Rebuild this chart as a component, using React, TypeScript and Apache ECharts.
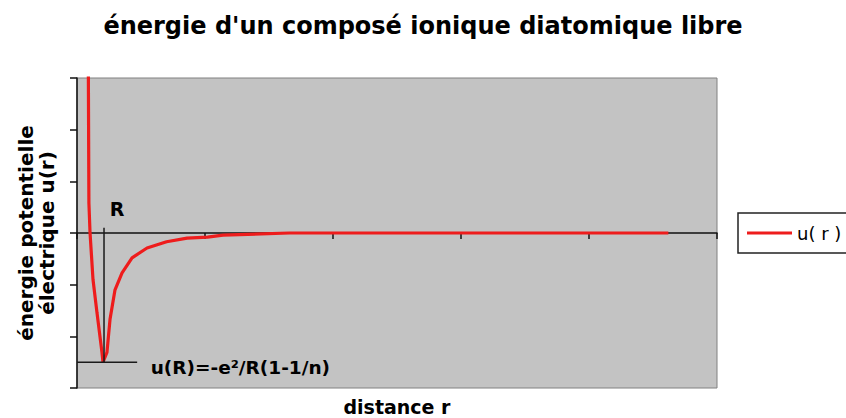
import React, { useEffect, useRef } from "react";
import * as echarts from "echarts";

// distance r (axis units: 0..5) and potential energy u(r) (axis units: -3..3)
const rValues = [0.088, 0.093, 0.102, 0.125, 0.156, 0.195, 0.203, 0.234, 0.258, 0.297, 0.352, 0.43, 0.547, 0.7, 0.86, 1.02, 1.14, 1.66, 4.62];
const uValues = [3.5, 0.58, 0, -0.9, -1.54, -2.31, -2.5, -2.31, -1.67, -1.1, -0.77, -0.48, -0.29, -0.17, -0.1, -0.08, -0.04, 0, 0];

// annotation: equilibrium distance R and minimum energy u(R)
const rMarkX = [0.211, 0.211];
const rMarkY = [-2.5, 0.1];
const minMarkX = [0, 0.47];
const minMarkY = [-2.5, -2.5];

const titleText = "énergie d'un composé ionique diatomique libre";
const yName = "énergie potentielle\nélectrique u(r)";
const xName = "distance r";
const seriesName = "u( r )";
const rLabel = "R";
const minLabel = "u(R)=-e²/R(1-1/n)";

const FONT = "DejaVu Sans";

export default function App() {
  const ref = useRef<HTMLDivElement>(null);
  useEffect(() => {
    if (!ref.current) return;
    const chart = echarts.init(ref.current, null, { renderer: "svg" });
    const curve = rValues.map((r, i) => [r, uValues[i]]);
    const rLine = rMarkX.map((x, i) => [x, rMarkY[i]]);
    const minLine = minMarkX.map((x, i) => [x, minMarkY[i]]);
    const labelBase = { fontFamily: FONT, fontWeight: "bold", color: "#000000", textBorderWidth: 0, opacity: 1 };
    chart.setOption({
      animation: false,
      backgroundColor: "#ffffff",
      title: {
        text: titleText,
        left: "center",
        top: 9,
        textStyle: { fontFamily: FONT, fontWeight: "bold", fontSize: 24, color: "#000" },
      },
      legend: {
        data: [{ name: seriesName, icon: "rect" }],
        left: 738,
        top: 213,
        padding: [10, 8, 10, 9],
        itemWidth: 45,
        itemHeight: 3,
        itemGap: 0,
        borderColor: "#222",
        borderWidth: 1.5,
        textStyle: { fontFamily: FONT, fontSize: 18, color: "#000", lineHeight: 20 },
      },
      grid: {
        left: 77,
        right: 129,
        top: 78,
        bottom: 30,
        show: true,
        backgroundColor: "#c3c3c3",
        borderColor: "#808080",
        borderWidth: 1,
      },
      xAxis: {
        type: "value",
        min: 0,
        max: 5,
        interval: 1,
        axisLine: { show: true, onZero: true, lineStyle: { color: "#111", width: 1.5 } },
        axisTick: { show: true, inside: false, length: 6, lineStyle: { color: "#111", width: 1.5 } },
        axisLabel: { show: false },
        splitLine: { show: false },
      },
      yAxis: {
        type: "value",
        min: -3,
        max: 3,
        interval: 1,
        name: yName,
        nameLocation: "middle",
        nameGap: 20,
        nameTextStyle: { fontFamily: FONT, fontWeight: "bold", fontSize: 20, lineHeight: 21, color: "#000" },
        axisLine: { show: true, onZero: false, lineStyle: { color: "#111", width: 1.5 } },
        axisTick: { show: true, inside: false, length: 7, lineStyle: { color: "#111", width: 1.5 } },
        axisLabel: { show: false },
        splitLine: { show: false },
      },
      graphic: [
        {
          type: "text",
          x: 397,
          y: 407,
          style: {
            text: xName,
            fontFamily: FONT,
            fontWeight: "bold",
            fontSize: 19,
            fill: "#000",
            textAlign: "center",
            textVerticalAlign: "middle",
          },
        },
      ],
      series: [
        {
          name: seriesName,
          type: "line",
          data: curve,
          symbol: "none",
          clip: true,
          lineStyle: { color: "#ee1c1c", width: 3.2 },
          itemStyle: { color: "#ee1c1c" },
          z: 2,
        },
        {
          name: "R-mark",
          type: "line",
          data: rLine,
          symbol: "none",
          lineStyle: { color: "#1a1a1a", width: 1.5 },
          z: 3,
          silent: true,
        },
        {
          name: "min-mark",
          type: "line",
          data: minLine,
          symbol: "none",
          lineStyle: { color: "#1a1a1a", width: 1.5 },
          z: 3,
          silent: true,
        },
        {
          name: "labels",
          type: "scatter",
          symbolSize: 1,
          itemStyle: { color: "#000000", opacity: 0 },
          silent: true,
          z: 4,
          data: [
            {
              value: rLine[1],
              label: {
                show: true,
                formatter: rLabel,
                position: "top",
                distance: 9,
                offset: [13, 0],
                fontSize: 19,
                ...labelBase,
              },
            },
            {
              value: minLine[1],
              label: {
                show: true,
                formatter: minLabel,
                position: "right",
                distance: 13,
                offset: [0, 5],
                fontSize: 18.5,
                ...labelBase,
              },
            },
          ],
        },
      ],
    });
    return () => chart.dispose();
  }, []);
  return (
    <div
      ref={ref}
      style={{ position: "fixed", left: 0, top: 0, width: 846, height: 418 }}
    />
  );
}
